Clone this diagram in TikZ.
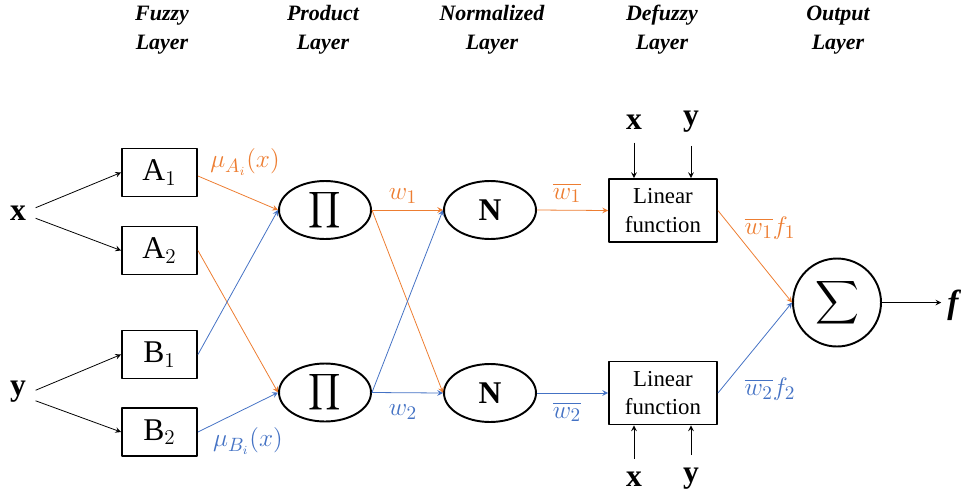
\documentclass[tikz,border=0pt]{standalone}
\usepackage{fontspec}
\usepackage{amsmath}
\setmainfont{Liberation Serif}
\usetikzlibrary{shapes.geometric,positioning}
\definecolor{orng}{HTML}{ED7D31}
\definecolor{blu}{HTML}{4472C4}
\begin{document}
\begin{tikzpicture}[x=0.02cm,y=-0.02cm,line join=round,>=stealth]
	\tikzset{every node/.style={font=\fontsize{18}{20}\selectfont},
		layer/.style={font=\fontsize{12.5}{16.5}\selectfont\bfseries\itshape,align=center},
		mfbox/.style={draw,line width=1.1pt,minimum width=1.5cm,minimum height=0.96cm,inner sep=0pt},
		prodnode/.style={draw,ellipse,line width=1.1pt,minimum width=1.84cm,minimum height=1.16cm,inner sep=0pt},
		linbox/.style={draw,line width=1.1pt,minimum width=2.16cm,minimum height=1.26cm,inner sep=0pt,
			align=center,font=\fontsize{13}{16}\selectfont},
		lbl/.style={font=\fontsize{15}{17}\selectfont},
		inp/.style={font=\fontsize{18}{18}\selectfont\bfseries},
		conn/.style={->,line width=0.45pt}}
	\useasboundingbox (0,0) rectangle (961,495);
	% layer titles
	\node[layer] at (162,30) {Fuzzy\\Layer};
	\node[layer] at (323,30) {Product\\Layer};
	\node[layer] at (492,30) {Normalized\\Layer};
	\node[layer] at (662,30) {Defuzzy\\Layer};
	\node[layer] at (838,30) {Output\\Layer};
	% inputs
	\node[inp] (x) at (18,213) {x};
	\node[inp] (y) at (18,392) {y};
	% fuzzy layer
	\node[mfbox] (A1) at (159.5,172.5) {A$_1$};
	\node[mfbox] (A2) at (159.5,250.5) {A$_2$};
	\node[mfbox] (B1) at (159.5,354.5) {B$_1$};
	\node[mfbox] (B2) at (159.5,432) {B$_2$};
	% product layer
	\node[prodnode,font=\fontsize{15}{16}\selectfont] (P1) at (325,210) {$\displaystyle\prod$};
	\node[prodnode,font=\fontsize{15}{16}\selectfont] (P2) at (325,392.5) {$\displaystyle\prod$};
	% normalized layer
	\node[prodnode,font=\fontsize{18}{18}\selectfont\bfseries] (N1) at (490,210) {N};
	\node[prodnode,font=\fontsize{18}{18}\selectfont\bfseries] (N2) at (490,393) {N};
	% defuzzy layer
	\node[linbox] (L1) at (663,210.5) {Linear\\function};
	\node[linbox] (L2) at (663,393) {Linear\\function};
	% output
	\node[draw,circle,line width=1.1pt,minimum size=1.76cm,inner sep=0pt,font=\fontsize{16}{16}\selectfont] (S) at (837,302.5) {$\displaystyle\sum$};
	\node[font=\fontsize{19}{19}\selectfont\bfseries\itshape] (f) at (953,305) {f};
	% x, y into linear functions
	\node[inp] (x1) at (634,122) {x};
	\node[inp] (y1) at (691,122) {y};
	\node[inp] (x2) at (634,479) {x};
	\node[inp] (y2) at (691,479) {y};
	\draw[conn] ([yshift=-4pt]x1.south) -- (x1.south |- L1.north);
	\draw[conn] ([yshift=-4pt]y1.south) -- (y1.south |- L1.north);
	\draw[conn] ([yshift=4pt]x2.north) -- (x2.north |- L2.south);
	\draw[conn] ([yshift=4pt]y2.north) -- (y2.north |- L2.south);
	% inputs to fuzzy layer
	\draw[conn] ([xshift=2pt,yshift=3pt]x.east) -- (A1.west);
	\draw[conn] ([xshift=2pt,yshift=-3pt]x.east) -- (A2.west);
	\draw[conn] ([xshift=2pt,yshift=1pt]y.east) -- (B1.west);
	\draw[conn] ([xshift=2pt,yshift=-5pt]y.east) -- (B2.west);
	% fuzzy to product
	\draw[conn,orng] ([yshift=-2pt]A1.east) -- (P1.west);
	\draw[conn,orng] (A2.east) -- (P2.west);
	\draw[conn,blu] (B1.east) -- (P1.west);
	\draw[conn,blu] (B2.east) -- (P2.west);
	\node[lbl,orng] at (245,162) {$\mu_{A_i}(x)$};
	\node[lbl,blu] at (248,441) {$\mu_{B_i}(x)$};
	% product to normalized
	\draw[conn,orng] (P1.east) -- (N1.west);
	\draw[conn,orng] (P1.east) -- (N2.west);
	\draw[conn,blu] (P2.east) -- (N1.west);
	\draw[conn,blu] (P2.east) -- (N2.west);
	\node[lbl,orng] at (403,196) {$w_1$};
	\node[lbl,blu] at (403,412) {$w_2$};
	% normalized to defuzzy
	\draw[conn,orng] (N1.east) -- (L1.west);
	\draw[conn,blu] (N2.east) -- (L2.west);
	\node[lbl,orng] at (567,193) {$\overline{w_1}$};
	\node[lbl,blu] at (567,412) {$\overline{w_2}$};
	% defuzzy to output
	\draw[conn,orng] (L1.east) -- (S.west);
	\draw[conn,blu] (L2.east) -- (S.west);
	\node[lbl,orng] at (770,228) {$\overline{w_1}f_1$};
	\node[lbl,blu] at (770,389) {$\overline{w_2}f_2$};
	\draw[conn] (S.east) -- (S.east -| f.west);
\end{tikzpicture}
\end{document}
